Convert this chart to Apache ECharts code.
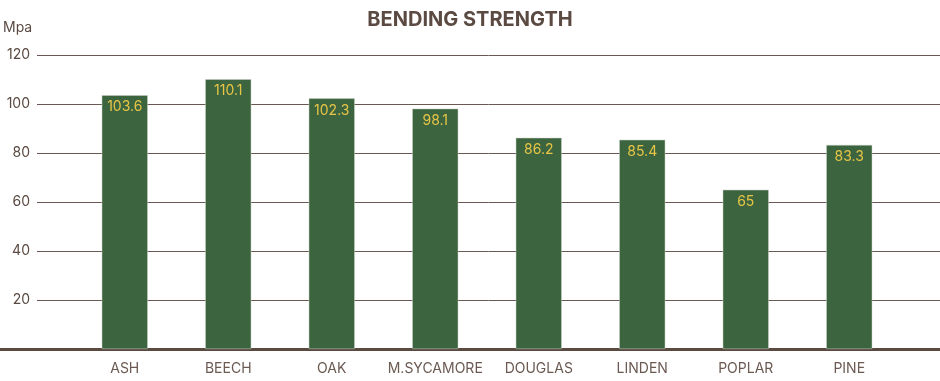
<!DOCTYPE html>
<html>
<head>
<meta charset="utf-8">
<script src="https://cdn.jsdelivr.net/npm/echarts@6/dist/echarts.min.js"></script>
<style>html,body{margin:0;padding:0;background:#fff;}#c{width:940px;height:381px;}</style>
</head>
<body>
<div id="c"></div>
<script>
const categories = ['ASH','BEECH','OAK','M.SYCAMORE','DOUGLAS','LINDEN','POPLAR','PINE'];
const values = [103.6, 110.1, 102.3, 98.1, 86.2, 85.4, 65, 83.3];
const yTicks = [20, 40, 60, 80, 100, 120];

const font = 'Inter, Open Sans, sans-serif';
const chart = echarts.init(document.getElementById('c'), null, {renderer:'canvas'});
chart.setOption({
  animation: false,
  backgroundColor: '#ffffff',
  title: {
    text: 'BENDING STRENGTH', left: 'center', top: 5,
    textStyle: {fontFamily: font, fontWeight: 'bold', fontSize: 20, color: '#5a4a42'}
  },
  grid: [
    {left: 34, right: 0, top: 55, bottom: 32},
    {left: 73, right: 39, top: 55, bottom: 32},
    {left: 0, right: 0, top: 55, bottom: 32}
  ],
  xAxis: [
    {gridIndex: 0, type: 'value', show: false, min: 0, max: 1},
    {gridIndex: 1, type: 'category', data: categories,
      axisLine: {show: false}, axisTick: {show: false},
      axisLabel: {interval: 0, color: '#6b5a52', fontFamily: font, fontSize: 14, margin: 13}},
    {gridIndex: 2, type: 'value', min: 0, max: 1, position: 'bottom',
      axisLine: {show: true, lineStyle: {color: '#5a4a40', width: 3}},
      axisTick: {show: false}, axisLabel: {show: false}, splitLine: {show: false}}
  ],
  yAxis: [
    {gridIndex: 0, type: 'value', min: 0, max: 120, interval: 20,
      name: 'Mpa', nameLocation: 'end', nameGap: 20,
      nameTextStyle: {color: '#5a4a42', fontFamily: font, fontSize: 14, align: 'left', padding: [0,0,0,-34]},
      axisLine: {show: false}, axisTick: {show: false},
      axisLabel: {color: '#5a4a42', fontFamily: font, fontSize: 14, margin: 7,
        formatter: v => (yTicks.includes(v) ? String(v) : '')},
      splitLine: {show: true, lineStyle: {color: '#6a5852', width: 1}}},
    {gridIndex: 1, type: 'value', min: 0, max: 120, show: false},
    {gridIndex: 2, type: 'value', min: 0, max: 1, show: false}
  ],
  series: [{
    type: 'bar', xAxisIndex: 1, yAxisIndex: 1, data: values, barWidth: 46,
    itemStyle: {color: '#3c643e', borderColor: '#c9d3c6', borderWidth: 0.5},
    label: {show: true, position: 'insideTop', distance: 5, color: '#e8c547', fontFamily: font, fontSize: 14}
  }]
});
</script>
</body>
</html>
